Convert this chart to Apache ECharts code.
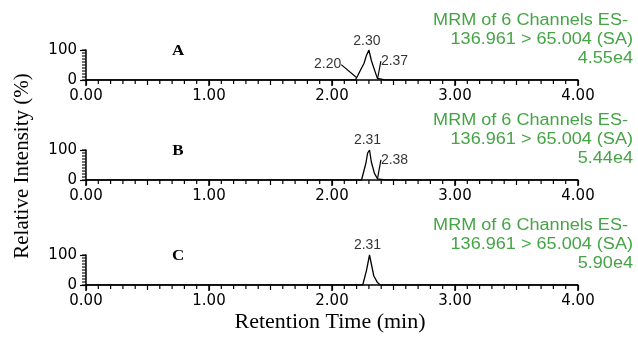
<!DOCTYPE html>
<html>
<head>
<meta charset="utf-8">
<script src="https://cdn.jsdelivr.net/npm/echarts@6/dist/echarts.min.js"></script>
<style>
  html, body { margin: 0; padding: 0; background: #fff; }
  #main { width: 638px; height: 339px; }
</style>
</head>
<body>
<div id="main"></div>
<script>
// chromatogram traces, [retention time (min), relative intensity (%)]
const traceA = [[0, 0], [2.15, 0], [2.19, 0], [2.21, 15], [2.235, 36], [2.26, 55], [2.28, 82], [2.30, 100],
  [2.32, 65], [2.35, 28], [2.37, 5], [2.40, 3], [2.43, 0], [4, 0]];
const traceB = [[0, 0], [2.24, 0], [2.255, 2], [2.275, 55], [2.29, 90], [2.305, 100], [2.32, 60],
  [2.345, 22], [2.37, 4], [2.40, 2], [2.43, 0], [4, 0]];
const traceC = [[0, 0], [2.25, 0], [2.265, 3], [2.28, 48], [2.305, 100], [2.32, 70], [2.34, 30],
  [2.37, 8], [2.39, 1], [2.42, 0], [4, 0]];

// annotated peaks: point on the trace + printed retention time
const peaksA = [[2.20, 8], [2.30, 100], [2.37, 3]];
const peakTextA = ['2.20', '2.30', '2.37'];
const peaksB = [[2.305, 100], [2.37, 4]];
const peakTextB = ['2.31', '2.38'];
const peaksC = [[2.305, 100]];
const peakTextC = ['2.31'];

const panelNames = ['A', 'B', 'C'];
const channelText = ['MRM of 6 Channels ES-', '136.961 > 65.004 (SA)'];
const scaleText = ['4.55e4', '5.44e4', '5.90e4'];

// fine (unlabelled) tick values
const fineTicksX = [0.1, 0.2, 0.3, 0.4, 0.6, 0.7, 0.8, 0.9, 1.1, 1.2, 1.3, 1.4, 1.6, 1.7, 1.8, 1.9,
  2.1, 2.2, 2.3, 2.4, 2.6, 2.7, 2.8, 2.9, 3.1, 3.2, 3.3, 3.4, 3.6, 3.7, 3.8, 3.9];
const fineTicksY = [0, 10, 20, 30, 40, 50, 60, 70, 80, 90, 100];

const traces = [traceA, traceB, traceC];
const peaks = [peaksA, peaksB, peaksC];
const peakTexts = [peakTextA, peakTextB, peakTextC];

// label offsets from the annotated point (px), and whether a leader is drawn
const labelShift = [
  [[-29, -13, true], [-2, -9, false], [17, -18, true]],
  [[-2, -10, false], [17, -19, true]],
  [[-2, -10, false]]
];

const tops = [50, 150, 255];
const infoY = [21, 121, 226];
const green = '#45a445';
const tickFont = 'DejaVu Sans';
const black = '#000';

const chart = echarts.init(document.getElementById('main'));

const grid = [], xAxis = [], yAxis = [], series = [], graphic = [];

// short y tick marks placed through the axis scale
function yTickSeries(i, values, len) {
  return {
    type: 'custom', xAxisIndex: i * 2, yAxisIndex: i, silent: true, clip: false, animation: false,
    data: values.map(function (v) { return [0, v]; }),
    renderItem: function (params, api) {
      const p = api.coord([api.value(0), api.value(1)]);
      return {
        type: 'line', shape: { x1: p[0], y1: p[1], x2: p[0] - len, y2: p[1] },
        style: { stroke: black, lineWidth: 1.1 }
      };
    }
  };
}

tops.forEach(function (top, i) {
  grid.push({ left: 86, width: 492, top: top, height: 30 });

  xAxis.push({
    type: 'value', gridIndex: i, min: 0, max: 4, interval: 1, position: 'bottom',
    axisLine: { lineStyle: { color: black, width: 1.5 } },
    axisTick: { length: 6, lineStyle: { color: black, width: 1.5 } },
    splitLine: { show: false },
    axisLabel: { color: black, fontFamily: tickFont, fontSize: 15, margin: 9,
      formatter: function (v) { return v.toFixed(2); } }
  });
  xAxis.push({
    type: 'value', gridIndex: i, min: 0, max: 4, interval: 0.5, position: 'bottom',
    axisLine: { show: false }, splitLine: { show: false }, axisLabel: { show: false },
    axisTick: { length: 5, lineStyle: { color: black, width: 1.2 } }
  });

  yAxis.push({
    type: 'value', gridIndex: i, min: 0, max: 100, interval: 100, position: 'left',
    axisLine: { show: true, lineStyle: { color: black, width: 1.5 } },
    axisTick: { show: true, length: 6, lineStyle: { color: black, width: 1.2 } },
    splitLine: { show: false },
    axisLabel: { color: black, fontFamily: tickFont, fontSize: 15, margin: 9 }
  });

  series.push({
    type: 'line', xAxisIndex: i * 2, yAxisIndex: i, data: traces[i],
    showSymbol: false, lineStyle: { color: black, width: 1.3 }, animation: false
  });
  series.push(yTickSeries(i, fineTicksY, 4));

  const shifts = labelShift[i];
  series.push({
    type: 'scatter', xAxisIndex: i * 2, yAxisIndex: i, symbolSize: 1,
    itemStyle: { color: 'transparent' }, animation: false, silent: true,
    data: peaks[i].map(function (p, k) {
      return {
        value: p,
        label: { show: true, formatter: peakTexts[i][k] },
        labelLine: { show: shifts[k][2] }
      };
    }),
    label: { color: black, fontFamily: 'Liberation Sans', fontSize: 14 },
    labelLine: { lineStyle: { color: black, width: 1.2 }, length2: 0 },
    labelLayout: function (p) {
      const s = shifts[p.dataIndex];
      return {
        x: p.rect.x + p.rect.width / 2 + s[0],
        y: p.rect.y + p.rect.height / 2 + s[1],
        align: 'center', verticalAlign: 'middle'
      };
    }
  });

  graphic.push({
    type: 'text', x: 178, y: top + 1, scaleX: 1.13,
    style: { text: panelNames[i], fill: black, fontFamily: 'Liberation Serif', fontWeight: 'bold',
      fontSize: 15, align: 'center', verticalAlign: 'middle' }
  });

  const lines = [channelText[0], channelText[1], scaleText[i]];
  lines.forEach(function (t, k) {
    graphic.push({
      type: 'text', x: k === 0 ? 628 : 633, y: infoY[i] + k * 19, scaleX: 1.13,
      style: { text: t, fill: green, fontFamily: 'Liberation Sans', fontSize: 16,
        align: 'right', verticalAlign: 'middle' }
    });
  });
});

graphic.push({
  type: 'text', x: 22, y: 166, rotation: Math.PI / 2,
  style: { text: 'Relative Intensity (%)', fill: black, fontFamily: 'Liberation Serif',
    fontSize: 21, align: 'center', verticalAlign: 'middle' }
});
graphic.push({
  type: 'text', x: 330, y: 322,
  style: { text: 'Retention Time (min)', fill: black, fontFamily: 'Liberation Serif',
    fontSize: 22, align: 'center', verticalAlign: 'middle' }
});

chart.setOption({
  animation: false,
  backgroundColor: '#fff',
  grid: grid,
  xAxis: xAxis,
  yAxis: yAxis,
  series: series,
  graphic: graphic
});

// fine x ticks, positioned with the axis scale once the grids exist
const xTickLines = [];
tops.forEach(function (top, i) {
  fineTicksX.forEach(function (v) {
    const p = chart.convertToPixel({ gridIndex: i }, [v, 0]);
    if (!p) return;
    xTickLines.push({
      type: 'line', z: 100,
      shape: { x1: p[0], y1: p[1], x2: p[0], y2: p[1] + 4 },
      style: { stroke: black, lineWidth: 1.2 }
    });
  });
});
chart.setOption({ graphic: graphic.concat(xTickLines) });
</script>
</body>
</html>
